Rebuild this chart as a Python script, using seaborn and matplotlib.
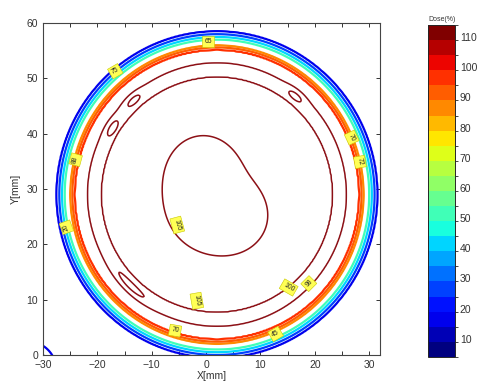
import numpy as np
import matplotlib
matplotlib.use("Agg")
import matplotlib.pyplot as plt
from matplotlib.colors import ListedColormap, BoundaryNorm
from matplotlib.colorbar import ColorbarBase
from matplotlib.ticker import MultipleLocator
import seaborn as sns

# ---------------- data ----------------
# radial dose profile (distance from field centre in mm -> dose in %)
profile_r = [0, 10, 15, 19, 21.3, 22.5, 23.8, 25.6, 26.2, 26.6, 27.0, 27.5, 28.0, 28.5, 29.0, 29.5, 30.5, 45]
profile_dose = [103, 105, 106.5, 106, 105, 102.5, 100, 98, 97, 91, 84, 68, 52, 40, 27, 15, 6, 0]
field_center = (2.0, 29.0)

# shape of the central 105 % loop (angle deg -> radius mm around loop centre)
loop_center = (1.7, 28.5)
loop_angle = [0, 27, 59, 90, 135, 180, 237, 276, 314, 345]
loop_radius = [9.0, 7.3, 8.5, 10.8, 11.2, 9.8, 9.9, 10.9, 10.8, 10.2]

# small hot spots inside the ring (angle in deg, radius mm, angular sigma deg, amplitude %)
hot_angle = [132, 148, 51, 226]
hot_radius = [23.0, 22.8, 23.0, 23.0]
hot_sigma = [3.5, 3.5, 3.5, 8]
hot_amp = [5.5, 5.5, 5.5, 5.5]

# neighbouring field in the lower-left corner
corner_center = (-33.0, -3.0)
corner_amp = 66.0
corner_sigma = 3.13

color_levels = [15, 27, 40, 52, 84, 91, 97]
dark_levels = [100, 105]

cbar_edges = list(range(4, 115, 5))
cbar_ticks = [10, 20, 30, 40, 50, 60, 70, 80, 90, 100, 110]

label_text = ["65", "75", "70", "72", "88", "20", "70", "45", "105", "105", "100", "98"]

# ---------------- layout of the labels (annotation positions) ----------------
label_x = [0.4, -16.7, 26.8, 28.3, -24.0, -25.7, -5.7, 12.8, -5.3, -1.7, 15.2, 18.9]
label_y = [56.7, 51.3, 39.3, 34.9, 35.3, 23.1, 4.4, 3.8, 23.5, 9.8, 12.2, 12.9]
label_rot = [0, 30, -65, -80, 75, 110, -10, 30, -75, -80, -30, 45]

# ---------------- build dose grid ----------------
sns.set_style("ticks")
plt.rcParams["font.family"] = ["Liberation Sans", "DejaVu Sans"]

x = np.arange(-31, 33.01, 0.2)
y = np.arange(-1, 61.01, 0.2)
X, Y = np.meshgrid(x, y)
R = np.hypot(X - field_center[0], Y - field_center[1])
TH = np.degrees(np.arctan2(Y - field_center[1], X - field_center[0]))
D = np.interp(R, profile_r, profile_dose)

# inner region shaped by the measured loop (smooth periodic fit through the read radii)
la = np.radians(loop_angle)
n_harm = 3
A = np.column_stack([np.ones_like(la)] + [f(k * la) for k in range(1, n_harm + 1) for f in (np.cos, np.sin)])
coef, *_ = np.linalg.lstsq(A, np.array(loop_radius), rcond=None)
RL = np.hypot(X - loop_center[0], Y - loop_center[1])
THL = np.arctan2(Y - loop_center[1], X - loop_center[0])
rl = coef[0] + sum(coef[2 * k - 1] * np.cos(k * THL) + coef[2 * k] * np.sin(k * THL)
                   for k in range(1, n_harm + 1))
D_inner = 105 + 0.35 * (RL - rl)
D = np.where(R < 14, D_inner, D)

for a, r0, s, amp in zip(hot_angle, hot_radius, hot_sigma, hot_amp):
    dth = (TH - a + 180) % 360 - 180
    D = D + amp * np.exp(-0.5 * (dth / s) ** 2 - 0.5 * ((R - r0) / 0.5) ** 2)
dc = np.hypot(X - corner_center[0], Y - corner_center[1])
D = D + corner_amp * np.exp(-0.5 * (dc / corner_sigma) ** 2)

n_bands = len(cbar_edges) - 1
jet = matplotlib.colormaps["jet"]
cmap = ListedColormap(sns.color_palette([jet(i / (n_bands - 1)) for i in range(n_bands)]))
norm = BoundaryNorm(cbar_edges, cmap.N)

fig = plt.figure(figsize=(4.8, 3.85), dpi=100)
ax = fig.add_axes([0.0896, 0.078, 0.7021, 0.862])

ax.contour(X, Y, D, levels=color_levels, cmap=cmap, norm=norm, linewidths=1.6)
ax.contour(X, Y, D, levels=dark_levels, colors="#8c1016", linewidths=1.1)

for t, lx, ly, rot in zip(label_text, label_x, label_y, label_rot):
    ax.text(lx, ly, t, fontsize=4.9, rotation=rot, ha="center", va="center",
            bbox=dict(boxstyle="square,pad=0.3", fc="#ffff55", ec="#c8c800", lw=0.4), zorder=5)

ax.set_xlim(-30, 32)
ax.set_ylim(0, 60)
ax.xaxis.set_major_locator(MultipleLocator(10))
ax.xaxis.set_minor_locator(MultipleLocator(5))
ax.yaxis.set_major_locator(MultipleLocator(10))
ax.tick_params(which="both", direction="in", top=True, right=True, length=3, width=0.7,
               labelsize=7.5, labelcolor="#333333", color="#333333")
for s in ax.spines.values():
    s.set_color("#444444")
    s.set_linewidth(0.8)
ax.set_xlabel("X[mm]", fontsize=7.5, color="#333333", labelpad=1)
ax.set_ylabel("Y[mm]", fontsize=7.5, color="#333333", labelpad=4)

cax = fig.add_axes([0.892, 0.073, 0.056, 0.862])
cb = ColorbarBase(cax, cmap=cmap, norm=norm, boundaries=cbar_edges, ticks=cbar_ticks)
cb.ax.tick_params(direction="in", left=True, right=True, length=2.5, width=0.6,
                  labelsize=7.5, labelcolor="#333333")
cb.outline.set_linewidth(0.7)
cax.set_title("Dose(%)", fontsize=5, color="#333333", pad=3)

fig.savefig("out.png", dpi=100)
